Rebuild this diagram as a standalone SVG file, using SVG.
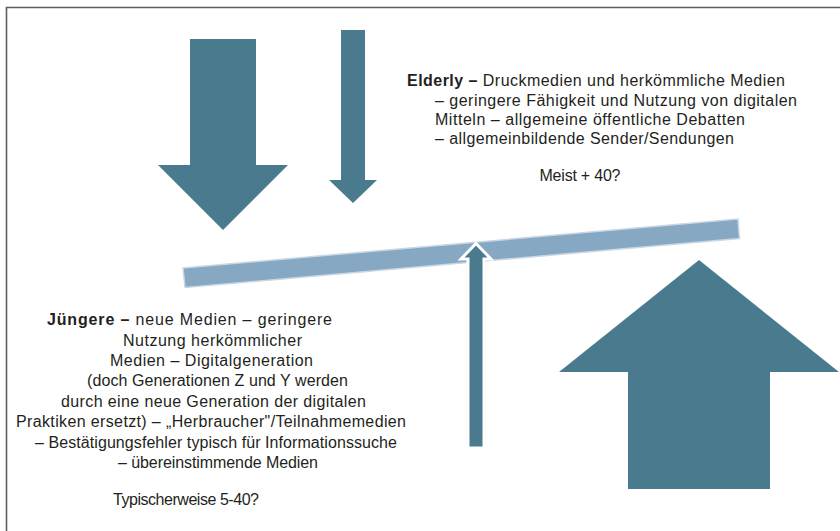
<svg xmlns="http://www.w3.org/2000/svg" width="840" height="531" viewBox="0 0 840 531">
<style>
.arrow{fill:#497a8e}
.pivot{fill:#497a8e;stroke:#ffffff;stroke-width:3;stroke-linejoin:miter}
.beam{fill:#87a8c3;stroke:#c9d7e4;stroke-width:1.5}
.frame{stroke:#5e5e5e;stroke-width:1.6;fill:none}
text{font-family:"Liberation Sans",Arial,sans-serif;font-size:16px;fill:#231f20}
.b{font-weight:bold}
.c{text-anchor:middle}
</style>
<rect width="840" height="531" fill="#ffffff"/>
<g id="frame">
<path class="frame" d="M6.5,531 V7.5 H840"/>
</g>
<g id="arrow-big-down">
<polygon class="arrow" points="190,39 256,39 256,165 288,165 223,230 158,165 190,165"/>
</g>
<g id="arrow-small-down">
<polygon class="arrow" points="341,30 365,30 365,180 377,180 353,203 329,180 341,180"/>
</g>
<g id="beam">
<polygon class="beam" points="183,268 738,219 739.5,238.5 185,287.5"/>
</g>
<g id="arrow-pivot">
<polygon class="pivot" points="476,243.5 491,259 484,259 484,448 468,448 468,259 461,259"/>
</g>
<g id="arrow-big-up">
<polygon class="arrow" points="699,260 839,372 770,372 770,489 628,489 628,372 559,372"/>
</g>
<g id="text-elderly">
<text x="407" y="86" textLength="378" lengthAdjust="spacing"><tspan class="b">Elderly –</tspan> Druckmedien und herkömmliche Medien</text>
<text x="435" y="105.5" textLength="362" lengthAdjust="spacing">– geringere Fähigkeit und Nutzung von digitalen</text>
<text x="435" y="124.5" textLength="310" lengthAdjust="spacing">Mitteln – allgemeine öffentliche Debatten</text>
<text x="435" y="143.5" textLength="299" lengthAdjust="spacing">– allgemeinbildende Sender/Sendungen</text>
<text x="539.5" y="181" textLength="81" lengthAdjust="spacing">Meist + 40?</text>
</g>
<g id="text-juengere">
<text x="47" y="325" textLength="285" lengthAdjust="spacing"><tspan class="b">Jüngere –</tspan> neue Medien – geringere</text>
<text class="c" x="212.5" y="345.5" textLength="179" lengthAdjust="spacing">Nutzung herkömmlicher</text>
<text class="c" x="211.5" y="366" textLength="203" lengthAdjust="spacing">Medien – Digitalgeneration</text>
<text class="c" x="217.5" y="386" textLength="261" lengthAdjust="spacing">(doch Generationen Z und Y werden</text>
<text class="c" x="213.5" y="406.5" textLength="305" lengthAdjust="spacing">durch eine neue Generation der digitalen</text>
<text class="c" x="211" y="427" textLength="390" lengthAdjust="spacing">Praktiken ersetzt) – „Herbraucher"/Teilnahmemedien</text>
<text class="c" x="216" y="447.5" textLength="362" lengthAdjust="spacing">– Bestätigungsfehler typisch für Informationssuche</text>
<text class="c" x="218" y="467.5" textLength="200" lengthAdjust="spacing">– übereinstimmende Medien</text>
<text x="113" y="505" textLength="146" lengthAdjust="spacing">Typischerweise 5-40?</text>
</g>
<g id="connectors"></g>
</svg>
